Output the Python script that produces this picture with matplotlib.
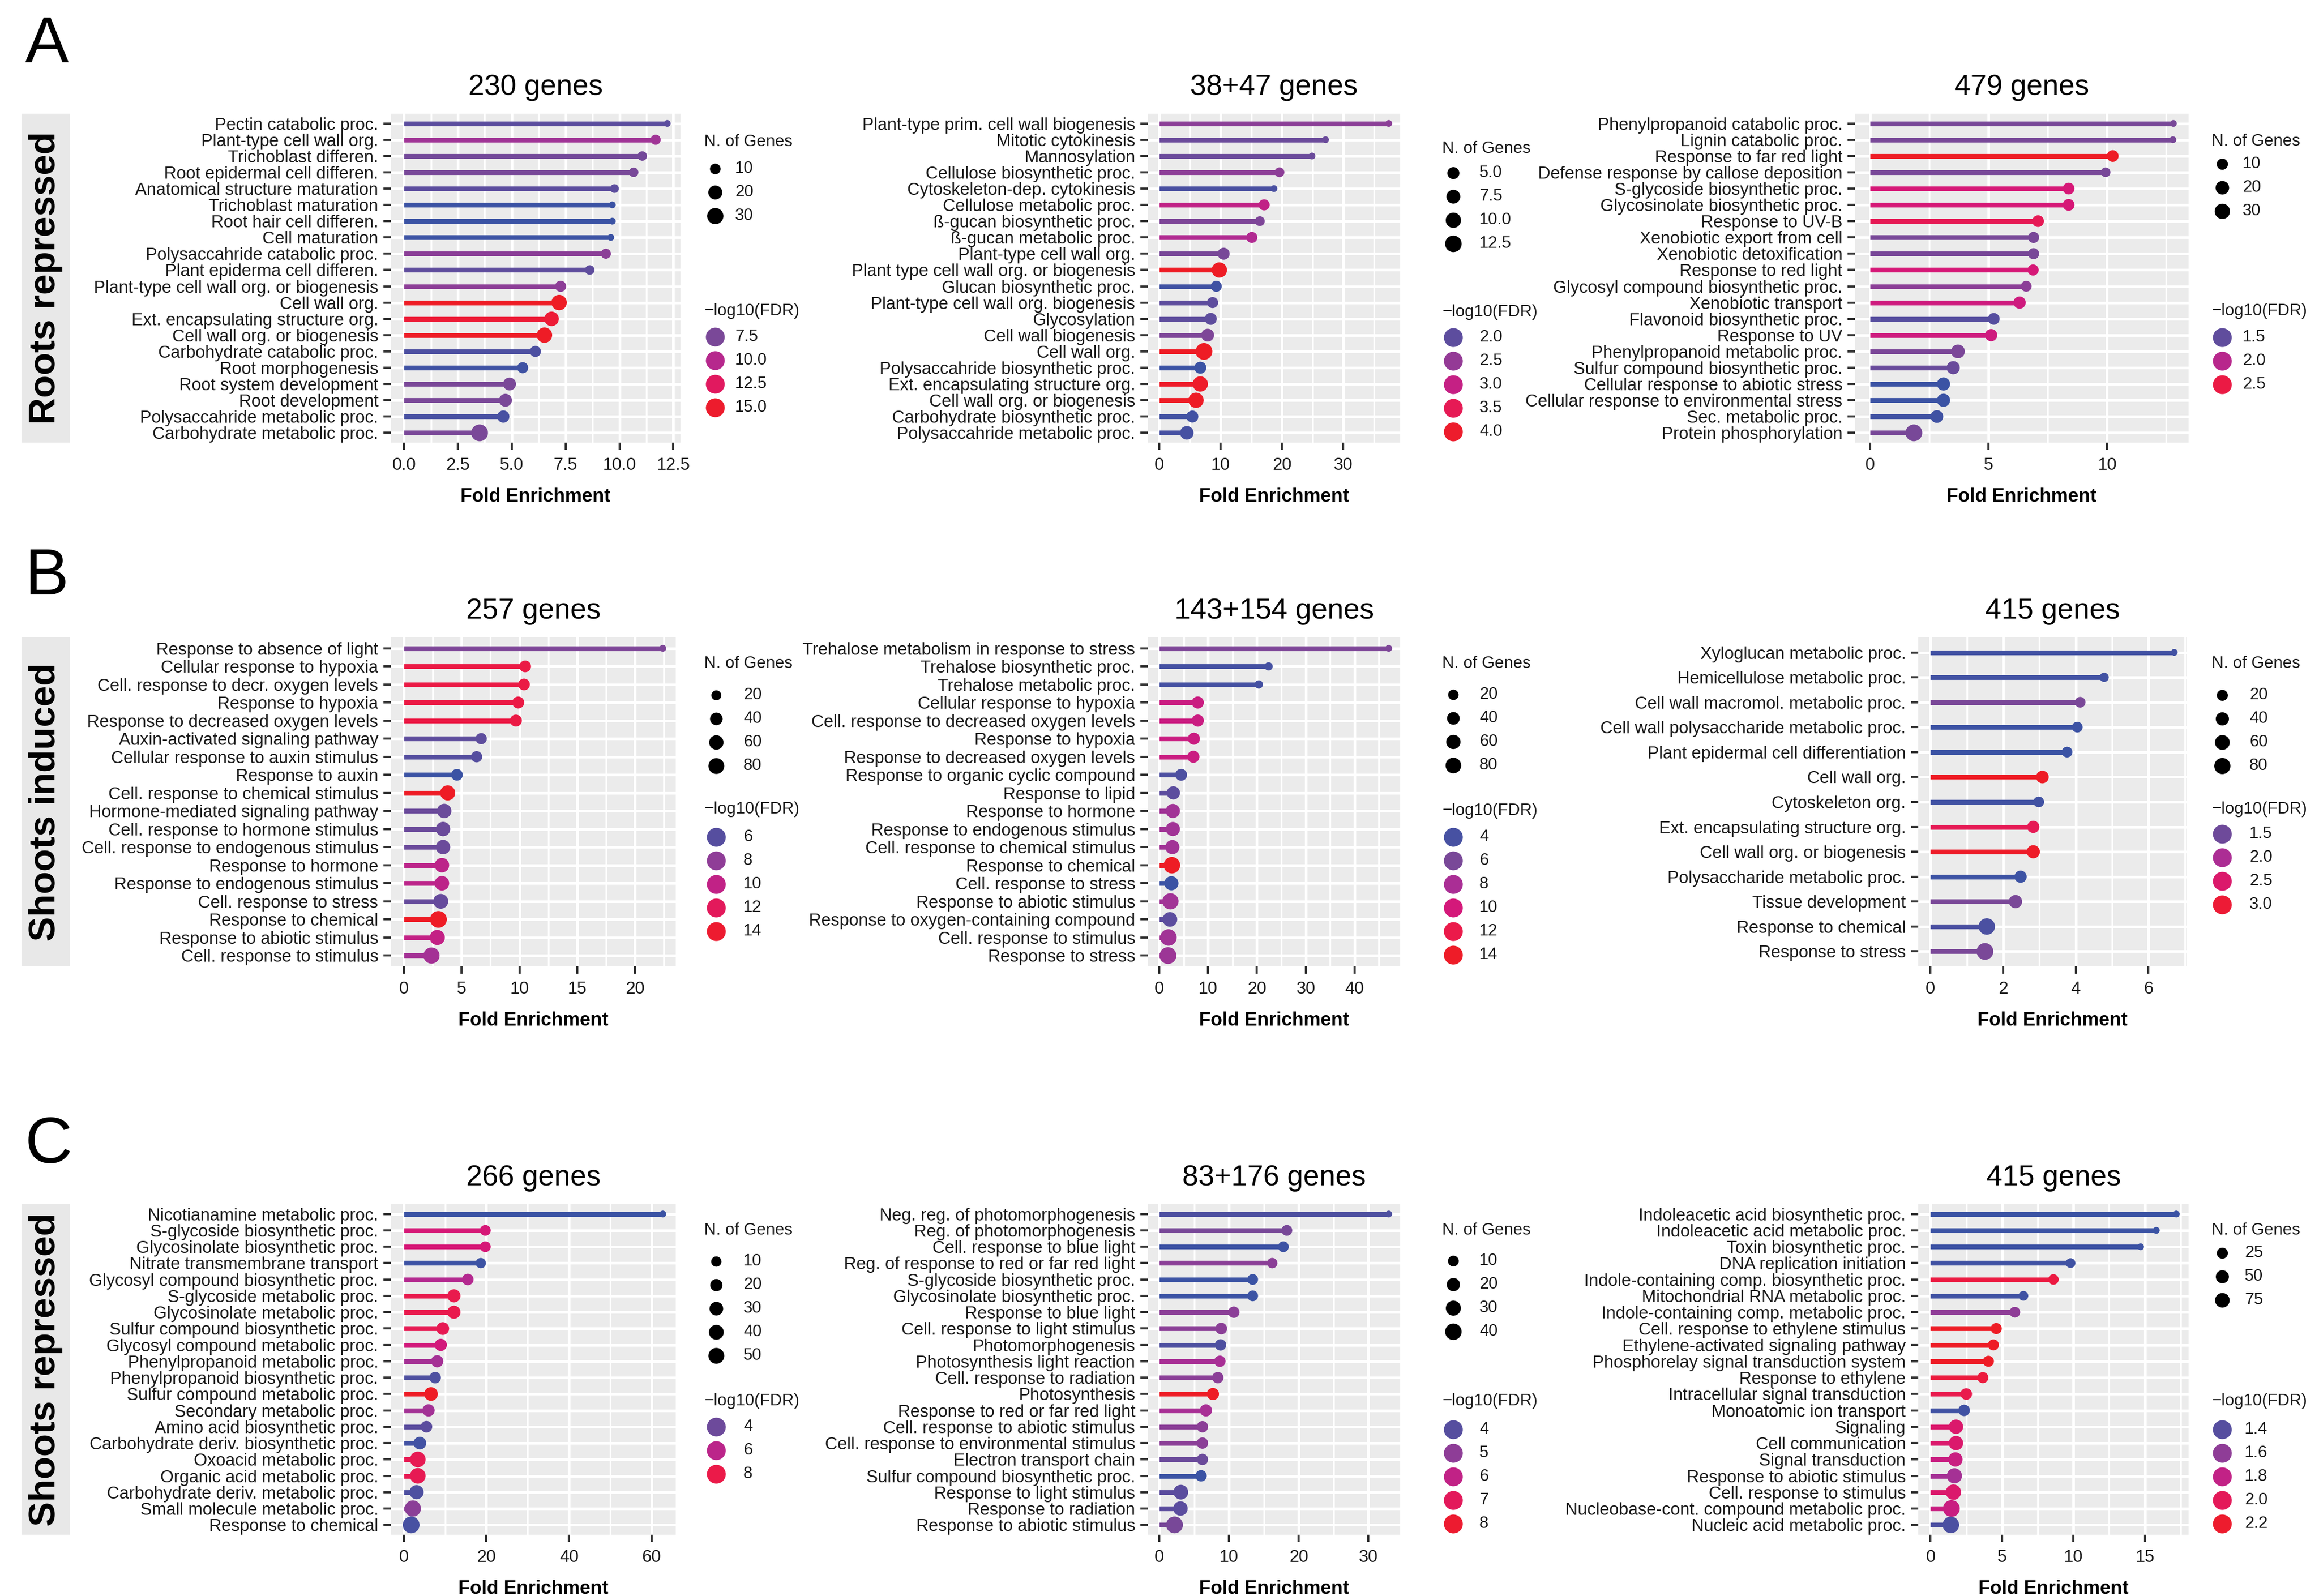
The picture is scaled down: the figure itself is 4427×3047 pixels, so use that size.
import numpy as np
import matplotlib
matplotlib.use('Agg')
import matplotlib.pyplot as plt
from matplotlib import font_manager
from matplotlib.colors import LinearSegmentedColormap, Normalize
from matplotlib.lines import Line2D
from matplotlib.patches import Rectangle

plt.rcParams['font.family'] = ['Liberation Sans', 'DejaVu Sans']

# ---------------- A: roots repressed ----------------
a1_title = '230 genes'
a1_terms = ['Pectin catabolic proc.', 'Plant-type cell wall org.', 'Trichoblast differen.',
            'Root epidermal cell differen.', 'Anatomical structure maturation', 'Trichoblast maturation',
            'Root hair cell differen.', 'Cell maturation', 'Polysaccahride catabolic proc.',
            'Plant epiderma cell differen.', 'Plant-type cell wall org. or biogenesis', 'Cell wall org.',
            'Ext. encapsulating structure org.', 'Cell wall org. or biogenesis', 'Carbohydrate catabolic proc.',
            'Root morphogenesis', 'Root system development', 'Root development',
            'Polysaccahride metabolic proc.', 'Carbohydrate metabolic proc.']
a1_fold = [12.22, 11.68, 11.06, 10.66, 9.77, 9.67, 9.67, 9.60, 9.37, 8.62,
           7.27, 7.20, 6.85, 6.52, 6.10, 5.51, 4.90, 4.71, 4.61, 3.51]
a1_genes = [6, 9, 8, 8, 7, 6, 6, 6, 9, 8, 11, 26, 22, 26, 11, 11, 16, 16, 14, 33]
a1_fdr = [6.26, 9.0, 7.2, 7.4, 6.3, 5.0, 5.0, 5.05, 8.15, 6.4,
          8.2, 15.5, 14.5, 15.4, 5.7, 5.2, 7.5, 7.5, 5.5, 7.5]
a1_ticks = [0, 2.5, 5, 7.5, 10, 12.5]
a1_size_breaks = ['10', '20', '30']
a1_fdr_breaks = ['7.5', '10.0', '12.5', '15.0']

a2_title = '38+47 genes'
a2_terms = ['Plant-type prim. cell wall biogenesis', 'Mitotic cytokinesis', 'Mannosylation',
            'Cellulose biosynthetic proc.', 'Cytoskeleton-dep. cytokinesis', 'Cellulose metabolic proc.',
            'ß-gucan biosynthetic proc.', 'ß-gucan metabolic proc.', 'Plant-type cell wall org.',
            'Plant type cell wall org. or biogenesis', 'Glucan biosynthetic proc.',
            'Plant-type cell wall org. biogenesis', 'Glycosylation', 'Cell wall biogenesis', 'Cell wall org.',
            'Polysaccahride biosynthetic proc.', 'Ext. encapsulating structure org.',
            'Cell wall org. or biogenesis', 'Carbohydrate biosynthetic proc.', 'Polysaccahride metabolic proc.']
a2_fold = [37.4, 27.1, 24.9, 19.6, 18.7, 17.1, 16.4, 15.1, 10.5, 9.8,
           9.3, 8.7, 8.4, 7.9, 7.3, 6.7, 6.7, 6.0, 5.4, 4.5]
a2_genes = [2, 2, 2, 3, 2, 4, 3, 4, 5, 10, 4, 4, 5, 6, 13, 5, 10, 10, 5, 7]
a2_fdr = [2.42, 2.13, 2.13, 2.44, 1.84, 2.95, 2.3, 2.78, 2.25, 4.1,
          1.75, 2.01, 2.01, 2.3, 4.1, 1.7, 4.03, 4.08, 1.77, 1.8]
a2_ticks = [0, 10, 20, 30]
a2_size_breaks = ['5.0', '7.5', '10.0', '12.5']
a2_fdr_breaks = ['2.0', '2.5', '3.0', '3.5', '4.0']

a3_title = '479 genes'
a3_terms = ['Phenylpropanoid catabolic proc.', 'Lignin catabolic proc.', 'Response to far red light',
            'Defense response by callose deposition', 'S-glycoside biosynthetic proc.',
            'Glycosinolate biosynthetic proc.', 'Response to UV-B', 'Xenobiotic export from cell',
            'Xenobiotic detoxification', 'Response to red light', 'Glycosyl compound biosynthetic proc.',
            'Xenobiotic transport', 'Flavonoid biosynthetic proc.', 'Response to UV',
            'Phenylpropanoid metabolic proc.', 'Sulfur compound biosynthetic proc.',
            'Cellular response to abiotic stress', 'Cellular response to environmental stress',
            'Sec. metabolic proc.', 'Protein phosphorylation']
a3_fold = [12.80, 12.78, 10.24, 9.94, 8.38, 8.38, 7.09, 6.90, 6.90, 6.88,
           6.59, 6.31, 5.22, 5.11, 3.71, 3.51, 3.10, 3.10, 2.82, 1.85]
a3_genes = [3, 3, 12, 6, 12, 12, 12, 10, 10, 10, 9, 14, 12, 14, 21, 18, 18, 18, 16, 40]
a3_fdr = [1.63, 1.63, 2.75, 1.63, 2.2, 2.2, 2.39, 1.63, 1.63, 2.2,
          1.74, 2.14, 1.45, 2.14, 1.65, 1.55, 1.3, 1.3, 1.33, 1.63]
a3_ticks = [0, 5, 10]
a3_size_breaks = ['10', '20', '30']
a3_fdr_breaks = ['1.5', '2.0', '2.5']

# ---------------- B: shoots induced ----------------
b1_title = '257 genes'
b1_terms = ['Response to absence of light', 'Cellular response to hypoxia',
            'Cell. response to decr. oxygen levels', 'Response to hypoxia',
            'Response to decreased oxygen levels', 'Auxin-activated signaling pathway',
            'Cellular response to auxin stimulus', 'Response to auxin', 'Cell. response to chemical stimulus',
            'Hormone-mediated signaling pathway', 'Cell. response to hormone stimulus',
            'Cell. response to endogenous stimulus', 'Response to hormone', 'Response to endogenous stimulus',
            'Cell. response to stress', 'Response to chemical', 'Response to abiotic stimulus',
            'Cell. response to stimulus']
b1_fold = [22.4, 10.5, 10.4, 9.9, 9.7, 6.7, 6.3, 4.6, 3.8, 3.5, 3.4, 3.4, 3.3, 3.3, 3.2, 3.0, 2.9, 2.4]
b1_genes = [12, 32, 32, 34, 34, 28, 28, 32, 70, 60, 60, 60, 62, 62, 66, 95, 70, 85]
b1_fdr = [7.4, 12.9, 12.9, 12.9, 12.9, 6.25, 5.96, 5.0, 14.6, 6.7, 6.7, 6.7, 9.8, 9.8, 6.55, 14.6, 10.1, 8.8]
b1_ticks = [0, 5, 10, 15, 20]
b1_size_breaks = ['20', '40', '60', '80']
b1_fdr_breaks = ['6', '8', '10', '12', '14']

b2_title = '143+154 genes'
b2_terms = ['Trehalose metabolism in response to stress', 'Trehalose biosynthetic proc.',
            'Trehalose metabolic proc.', 'Cellular response to hypoxia',
            'Cell. response to decreased oxygen levels', 'Response to hypoxia',
            'Response to decreased oxygen levels', 'Response to organic cyclic compound', 'Response to lipid',
            'Response to hormone', 'Response to endogenous stimulus', 'Cell. response to chemical stimulus',
            'Response to chemical', 'Cell. response to stress', 'Response to abiotic stimulus',
            'Response to oxygen-containing compound', 'Cell. response to stimulus', 'Response to stress']
b2_fold = [47.0, 22.4, 20.4, 7.9, 7.9, 7.1, 7.0, 4.5, 2.9, 2.8, 2.8, 2.7, 2.6, 2.5, 2.3, 2.2, 1.9, 1.8]
b2_genes = [8, 10, 10, 34, 34, 34, 34, 32, 47, 58, 58, 58, 95, 58, 90, 65, 95, 100]
b2_fdr = [6.2, 3.9, 3.9, 9.5, 9.5, 9.5, 9.5, 4.25, 4.8, 7.6, 7.6, 7.6, 14.2, 3.5, 7.6, 4.8, 7.6, 7.4]
b2_ticks = [0, 10, 20, 30, 40]
b2_size_breaks = ['20', '40', '60', '80']
b2_fdr_breaks = ['4', '6', '8', '10', '12', '14']

b3_title = '415 genes'
b3_terms = ['Xyloglucan metabolic proc.', 'Hemicellulose metabolic proc.', 'Cell wall macromol. metabolic proc.',
            'Cell wall polysaccharide metabolic proc.', 'Plant epidermal cell differentiation', 'Cell wall org.',
            'Cytoskeleton org.', 'Ext. encapsulating structure org.', 'Cell wall org. or biogenesis',
            'Polysaccharide metabolic proc.', 'Tissue development', 'Response to chemical', 'Response to stress']
b3_fold = [6.71, 4.78, 4.12, 4.04, 3.76, 3.08, 2.98, 2.83, 2.83, 2.48, 2.34, 1.55, 1.50]
b3_genes = [5, 10, 18, 18, 18, 34, 18, 30, 40, 30, 40, 85, 90]
b3_fdr = [1.16, 1.16, 1.6, 1.12, 1.1, 3.2, 1.15, 2.68, 3.15, 1.12, 1.6, 1.23, 1.6]
b3_ticks = [0, 2, 4, 6]
b3_size_breaks = ['20', '40', '60', '80']
b3_fdr_breaks = ['1.5', '2.0', '2.5', '3.0']

# ---------------- C: shoots repressed ----------------
c1_title = '266 genes'
c1_terms = ['Nicotianamine metabolic proc.', 'S-glycoside biosynthetic proc.', 'Glycosinolate biosynthetic proc.',
            'Nitrate transmembrane transport', 'Glycosyl compound biosynthetic proc.',
            'S-glycoside metabolic proc.', 'Glycosinolate metabolic proc.', 'Sulfur compound biosynthetic proc.',
            'Glycosyl compound metabolic proc.', 'Phenylpropanoid metabolic proc.',
            'Phenylpropanoid biosynthetic proc.', 'Sulfur compound metabolic proc.', 'Secondary metabolic proc.',
            'Amino acid biosynthetic proc.', 'Carbohydrate deriv. biosynthetic proc.', 'Oxoacid metabolic proc.',
            'Organic acid metabolic proc.', 'Carbohydrate deriv. metabolic proc.',
            'Small molecule metabolic proc.', 'Response to chemical']
c1_fold = [62.7, 19.75, 19.75, 18.65, 15.5, 12.15, 12.15, 9.45, 8.96, 8.1,
           7.6, 6.6, 6.0, 5.5, 3.9, 3.4, 3.4, 3.1, 2.2, 1.8]
c1_genes = [3, 12, 12, 10, 16, 26, 26, 23, 20, 20, 16, 30, 20, 16, 23, 48, 48, 34, 54, 60]
c1_fdr = [2.8, 6.83, 6.83, 2.87, 5.8, 7.87, 7.87, 7.74, 6.7, 5.4,
          3.26, 9.3, 5.34, 3.58, 3.0, 7.74, 7.74, 3.26, 4.75, 3.13]
c1_ticks = [0, 20, 40, 60]
c1_size_breaks = ['10', '20', '30', '40', '50']
c1_fdr_breaks = ['4', '6', '8']

c2_title = '83+176 genes'
c2_terms = ['Neg. reg. of photomorphogenesis', 'Reg. of photomorphogenesis', 'Cell. response to blue light',
            'Reg. of response to red or far red light', 'S-glycoside biosynthetic proc.',
            'Glycosinolate biosynthetic proc.', 'Response to blue light', 'Cell. response to light stimulus',
            'Photomorphogenesis', 'Photosynthesis light reaction', 'Cell. response to radiation',
            'Photosynthesis', 'Response to red or far red light', 'Cell. response to abiotic stimulus',
            'Cell. response to environmental stimulus', 'Electron transport chain',
            'Sulfur compound biosynthetic proc.', 'Response to light stimulus', 'Response to radiation',
            'Response to abiotic stimulus']
c2_fold = [32.9, 18.3, 17.8, 16.2, 13.4, 13.4, 10.7, 8.9, 8.8, 8.7,
           8.4, 7.7, 6.7, 6.2, 6.2, 6.2, 6.0, 3.1, 3.05, 2.2]
c2_genes = [4, 10, 10, 9, 10, 10, 12, 13, 12, 12, 12, 15, 15, 12, 12, 12, 12, 28, 26, 42]
c2_fdr = [3.84, 4.6, 3.55, 4.94, 3.5, 3.5, 4.94, 4.94, 3.84, 5.47,
          4.94, 8.3, 5.47, 4.94, 4.94, 4.36, 3.5, 4.08, 4.08, 4.6]
c2_ticks = [0, 10, 20, 30]
c2_size_breaks = ['10', '20', '30', '40']
c2_fdr_breaks = ['4', '5', '6', '7', '8']

c3_title = '415 genes'
c3_terms = ['Indoleacetic acid biosynthetic proc.', 'Indoleacetic acid metabolic proc.',
            'Toxin biosynthetic proc.', 'DNA replication initiation',
            'Indole-containing comp. biosynthetic proc.', 'Mitochondrial RNA metabolic proc.',
            'Indole-containing comp. metabolic proc.', 'Cell. response to ethylene stimulus',
            'Ethylene-activated signaling pathway', 'Phosphorelay signal transduction system',
            'Response to ethylene', 'Intracellular signal transduction', 'Monoatomic ion transport',
            'Signaling', 'Cell communication', 'Signal transduction', 'Response to abiotic stimulus',
            'Cell. response to stimulus', 'Nucleobase-cont. compound metabolic proc.',
            'Nucleic acid metabolic proc.']
c3_fold = [17.2, 15.8, 14.7, 9.8, 8.6, 6.5, 5.9, 4.6, 4.4, 4.05,
           3.66, 2.5, 2.35, 1.78, 1.78, 1.74, 1.67, 1.6, 1.46, 1.42]
c3_genes = [4, 4, 4, 14, 20, 14, 22, 25, 25, 25, 25, 30, 30, 70, 70, 70, 85, 90, 120, 115]
c3_fdr = [1.3, 1.3, 1.31, 1.32, 2.1, 1.32, 1.6, 2.25, 2.25, 2.24,
          2.12, 2.04, 1.32, 1.93, 1.93, 1.83, 1.68, 1.93, 1.83, 1.36]
c3_ticks = [0, 5, 10, 15]
c3_size_breaks = ['25', '50', '75']
c3_fdr_breaks = ['1.4', '1.6', '1.8', '2.0', '2.2']

row_letters = ['A', 'B', 'C']
row_names = ['Roots repressed', 'Shoots induced', 'Shoots repressed']

# ---------------- layout (pixels of the 4427x3047 canvas) ----------------
W, H = 4427, 3047
DPI = 300
PT = 72 / DPI                      # points per pixel
DOT_MIN, DOT_MAX = 13, 32          # point diameters, px
KEY_DOT = 36                       # colour legend key, px
STEP = 45                          # legend row spacing, px
TXT = '#1a1a1a'

cmap = LinearSegmentedColormap.from_list('fdr', [(0.0, '#3B53A4'), (0.234, '#7A4898'), (0.42, '#AA2E95'),
                                                 (0.607, '#D4187A'), (0.794, '#EB1A4A'), (1.0, '#EE1C25')])

row_y = [(217, 845), (1217, 1845), (2299, 2930)]
letter_base = [119, 1135, 2220]

# (left, right) of each panel, then legend: x_title, x_dot, x_label, size_title_y, size_y0, fdr_title_y, fdr_y0
panels = [
    (a1_title, a1_terms, a1_fold, a1_genes, a1_fdr, a1_ticks, a1_size_breaks, a1_fdr_breaks, 0,
     (746, 1299), (1344, 1365, 1403, 271, 322, 594, 643)),
    (a2_title, a2_terms, a2_fold, a2_genes, a2_fdr, a2_ticks, a2_size_breaks, a2_fdr_breaks, 0,
     (2191, 2673), (2753, 2774, 2824, 284, 330, 596, 644)),
    (a3_title, a3_terms, a3_fold, a3_genes, a3_fdr, a3_ticks, a3_size_breaks, a3_fdr_breaks, 0,
     (3541, 4178), (4222, 4242, 4281, 270, 313, 594, 644)),
    (b1_title, b1_terms, b1_fold, b1_genes, b1_fdr, b1_ticks, b1_size_breaks, b1_fdr_breaks, 1,
     (746, 1290), (1344, 1367, 1419, 1267, 1327, 1545, 1598)),
    (b2_title, b2_terms, b2_fold, b2_genes, b2_fdr, b2_ticks, b2_size_breaks, b2_fdr_breaks, 1,
     (2191, 2673), (2753, 2774, 2824, 1267, 1326, 1548, 1598)),
    (b3_title, b3_terms, b3_fold, b3_genes, b3_fdr, b3_ticks, b3_size_breaks, b3_fdr_breaks, 1,
     (3662, 4174), (4222, 4242, 4294, 1267, 1327, 1545, 1592)),
    (c1_title, c1_terms, c1_fold, c1_genes, c1_fdr, c1_ticks, c1_size_breaks, c1_fdr_breaks, 2,
     (746, 1290), (1344, 1367, 1419, 2349, 2408, 2675, 2724)),
    (c2_title, c2_terms, c2_fold, c2_genes, c2_fdr, c2_ticks, c2_size_breaks, c2_fdr_breaks, 2,
     (2191, 2673), (2753, 2774, 2824, 2349, 2407, 2675, 2729)),
    (c3_title, c3_terms, c3_fold, c3_genes, c3_fdr, c3_ticks, c3_size_breaks, c3_fdr_breaks, 2,
     (3662, 4178), (4222, 4242, 4285, 2349, 2392, 2675, 2729)),
]

fig = plt.figure(figsize=(W / DPI, H / DPI), dpi=DPI)


def fx(px):
    return px / W


def fy(px):
    return 1 - px / H


def dot_px(n, lo, hi):
    # ggplot-like area scale: diameter grows with sqrt of the rescaled count
    frac = np.clip((np.asarray(n, float) - lo) / (hi - lo), 0, 1)
    return DOT_MIN + (DOT_MAX - DOT_MIN) * np.sqrt(frac)


def draw_panel(title, terms, fold, genes, fdr, ticks, size_breaks, fdr_breaks, row, xspan, leg):
    top, bottom = row_y[row]
    left, right = xspan
    ax = fig.add_axes([fx(left), fy(bottom), (right - left) / W, (bottom - top) / H])

    fold = np.asarray(fold, float)
    genes = np.asarray(genes, float)
    fdr = np.asarray(fdr, float)
    n = len(terms)
    y = np.arange(n)[::-1]

    norm = Normalize(fdr.min(), fdr.max())
    cols = cmap(norm(fdr))
    sizes = dot_px(genes, genes.min(), genes.max())

    ax.hlines(y, 0, fold, colors=cols, lw=2.2, zorder=2, capstyle='butt')
    ax.scatter(fold, y, s=(sizes * PT) ** 2, c=cols, linewidths=0, zorder=3)

    xmax = fold.max()
    ax.set_xlim(-0.05 * xmax, 1.05 * xmax)
    ax.set_ylim(-0.6, n - 0.4)

    step = ticks[1] - ticks[0]
    minor = np.arange(ticks[0] - step / 2, 1.05 * xmax, step)
    minor = minor[minor > -0.05 * xmax]
    ax.set_xticks(ticks)
    if isinstance(ticks[1], float):
        ax.set_xticklabels([f'{t:.1f}' for t in ticks])
    ax.set_xticks(minor, minor=True)
    ax.set_yticks(y)
    ax.set_yticklabels(terms)

    ax.set_facecolor('#EBEBEB')
    ax.set_axisbelow(True)
    ax.grid(True, which='major', color='white', lw=1.2)
    ax.grid(True, which='minor', axis='x', color='white', lw=0.8)
    for s in ax.spines.values():
        s.set_visible(False)
    ax.tick_params(which='major', length=3.3, width=1.0, color='#333333', labelsize=7.9, labelcolor=TXT)
    ax.tick_params(axis='x', pad=3.5)
    ax.tick_params(axis='y', pad=2.4)
    ax.tick_params(which='minor', length=0)

    ax.set_title(title, fontsize=13.2, pad=8.6, color='black')
    ax.set_xlabel('Fold Enrichment', fontsize=8.7, fontweight='bold', labelpad=6.5, color='black')

    # legends: gene count (black dots) and -log10(FDR) (coloured keys)
    x_title, x_dot, x_lab, sty, sy0, fty, fy0 = leg
    fig.text(fx(x_title), fy(sty), 'N. of Genes', fontsize=7.6, va='center', color=TXT)
    for i, b in enumerate(size_breaks):
        yy = sy0 + i * STEP
        d = dot_px(float(b), genes.min(), genes.max())
        fig.add_artist(Line2D([fx(x_dot)], [fy(yy)], marker='o', ms=float(d) * PT, mew=0,
                              color='black', ls='none', transform=fig.transFigure))
        fig.text(fx(x_lab), fy(yy), b, fontsize=7.6, va='center', color=TXT)
    fig.text(fx(x_title), fy(fty), '\u2212log10(FDR)', fontsize=7.6, va='center', color=TXT)
    for i, b in enumerate(fdr_breaks):
        yy = fy0 + i * STEP
        fig.add_artist(Line2D([fx(x_dot)], [fy(yy)], marker='o', ms=KEY_DOT * PT, mew=0,
                              color=cmap(norm(float(b))), ls='none', transform=fig.transFigure))
        fig.text(fx(x_lab), fy(yy), b, fontsize=7.6, va='center', color=TXT)


for p in panels:
    draw_panel(*p)

# row labels in grey strips, panel letters
names = {f.name for f in font_manager.fontManager.ttflist}
if 'Liberation Sans Narrow' in names:
    row_family, row_size = 'Liberation Sans Narrow', 20.6
else:
    row_family, row_size = 'Liberation Sans', 17

for i, (top, bottom) in enumerate(row_y):
    fig.add_artist(Rectangle((fx(41), fy(bottom)), (133 - 41) / W, (bottom - top) / H,
                             transform=fig.transFigure, facecolor='#E8E8E8', edgecolor='none'))
    fig.text(fx(87), fy((top + bottom) / 2), row_names[i], rotation=90, ha='center', va='center',
             fontsize=row_size, fontweight='bold', family=row_family, color='black')
    fig.text(fx(48), fy(letter_base[i]), row_letters[i], fontsize=30, va='baseline', color='black')

fig.savefig('out.png', dpi=DPI)
